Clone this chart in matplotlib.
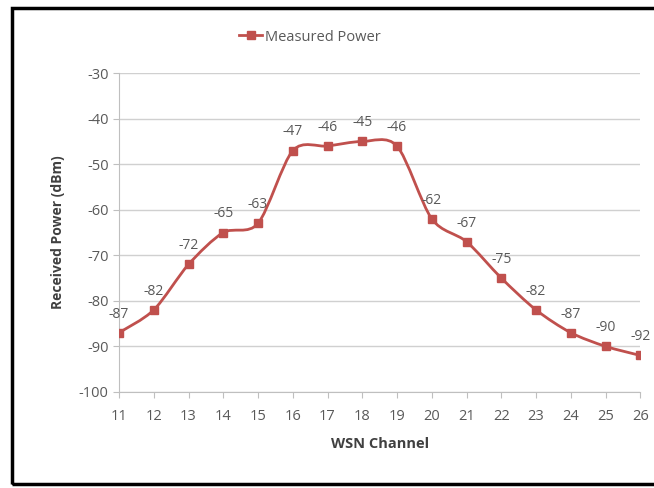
import matplotlib
matplotlib.use("Agg")
import matplotlib.pyplot as plt
import numpy as np
from matplotlib.path import Path
from matplotlib.patches import PathPatch, Rectangle
from matplotlib.lines import Line2D

channels = [11, 12, 13, 14, 15, 16, 17, 18, 19, 20, 21, 22, 23, 24, 25, 26]
power = [-87, -82, -72, -65, -63, -47, -46, -45, -46, -62, -67, -75, -82, -87, -90, -92]
yticks = [-100, -90, -80, -70, -60, -50, -40, -30]

red = "#C0504D"
grey_txt = "#595959"

plt.rcParams["font.family"] = ["Open Sans", "DejaVu Sans"]
plt.rcParams["axes.unicode_minus"] = False

fig = plt.figure(figsize=(6.54, 4.88), dpi=100)
ax = fig.add_axes([0.182, 0.197, 0.797, 0.653])

# smoothed line (Excel-style bezier through the points)
x = np.array(channels, dtype=float)
y = np.array(power, dtype=float)
verts = [(x[0], y[0])]
codes = [Path.MOVETO]
t = 1 / 7
for i in range(len(x) - 1):
    p0 = (x[i - 1], y[i - 1]) if i > 0 else (x[i], y[i])
    p3 = (x[i + 2], y[i + 2]) if i + 2 < len(x) else (x[i + 1], y[i + 1])
    c1 = (x[i] + (x[i + 1] - p0[0]) * t, y[i] + (y[i + 1] - p0[1]) * t)
    c2 = (x[i + 1] - (p3[0] - x[i]) * t, y[i + 1] - (p3[1] - y[i]) * t)
    verts += [c1, c2, (x[i + 1], y[i + 1])]
    codes += [Path.CURVE4] * 3
ax.add_patch(PathPatch(Path(verts, codes), fill=False, edgecolor=red, lw=2.0, zorder=3))
ax.plot(channels, power, ls="none", marker="s", ms=6, color=red, zorder=4)

for cx, py in zip(channels, power):
    ax.annotate(str(py), (cx, py), xytext=(0, 8), textcoords="offset points",
                ha="center", va="bottom", fontsize=10, color=grey_txt)

ax.set_xlim(11, 26)
ax.set_ylim(-100, -30)
ax.set_xticks(channels)
ax.set_yticks(yticks)
ax.grid(axis="y", color="#D0D0D0", lw=1)
ax.set_axisbelow(True)
for s in ["top", "right"]:
    ax.spines[s].set_visible(False)
for s in ["left", "bottom"]:
    ax.spines[s].set_color("#BFBFBF")
ax.tick_params(axis="both", colors="#BFBFBF", labelcolor=grey_txt, labelsize=10.5, length=4)
ax.tick_params(axis="x", pad=8)
ax.set_xlabel("WSN Channel", fontsize=10.5, fontweight="bold", color="#404040", labelpad=10)
ax.set_ylabel("Received Power (dBm)", fontsize=10, fontweight="bold", color="#404040", labelpad=10)

handle = Line2D([], [], color=red, lw=2.0, marker="s", ms=6)
fig.legend([handle], ["Measured Power"], loc="center", bbox_to_anchor=(0.474, 0.924),
           frameon=False, fontsize=10.5, handlelength=1.6, handletextpad=0.2,
           labelcolor=grey_txt)

fig.patches.append(Rectangle((0.018, 0.008), 1.0, 0.975, transform=fig.transFigure,
                             fill=False, edgecolor="black", lw=2.5))

fig.savefig("out.png", dpi=100)
